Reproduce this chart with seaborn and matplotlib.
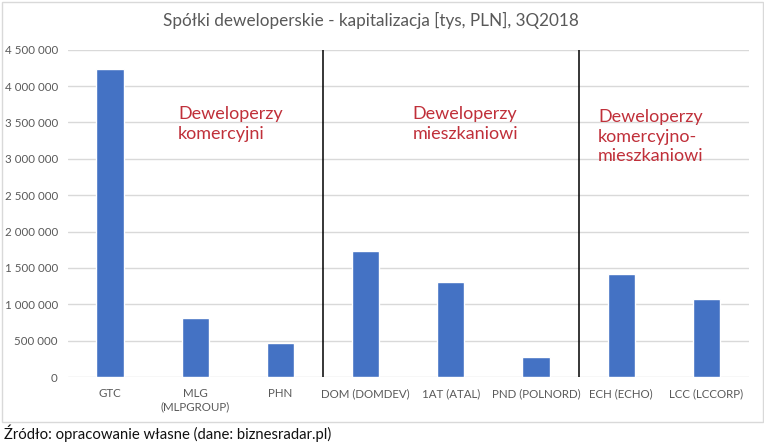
import matplotlib
matplotlib.use("Agg")
import matplotlib.pyplot as plt
import matplotlib.patches as mpatches
from matplotlib.ticker import FuncFormatter
import seaborn as sns
import pandas as pd

categories = ["GTC", "MLG\n(MLPGROUP)", "PHN", "DOM (DOMDEV)", "1AT (ATAL)",
              "PND (POLNORD)", "ECH (ECHO)", "LCC (LCCORP)"]
values = [4240000, 810000, 467000, 1730000, 1305000, 275000, 1415000, 1070000]
group_labels = ["Deweloperzy\nkomercyjni", "Deweloperzy\nmieszkaniowi",
                "Deweloperzy\nkomercyjno-\nmieszkaniowi"]
group_dividers = [2.5, 5.5]
yticks = [0, 500000, 1000000, 1500000, 2000000, 2500000, 3000000, 3500000, 4000000, 4500000]

sns.set_theme(style="white")
plt.rcParams['font.family'] = ['Lato', 'DejaVu Sans']

W, H = 764, 442
fig = plt.figure(figsize=(W / 100, H / 100), dpi=100)
ax = fig.add_axes([67.5 / W, 1 - 377 / H, (749 - 67.5) / W, (377 - 49.7) / H])

df = pd.DataFrame({"cat": categories, "val": values})
sns.barplot(data=df, x="cat", y="val", color="#4472C4", width=0.32, ax=ax,
            saturation=1, zorder=3)

ax.set_ylim(0, 4500000)
ax.set_xlim(-0.5, len(categories) - 0.5)
ax.set_yticks(yticks)
ax.yaxis.set_major_formatter(FuncFormatter(lambda v, p: f"{int(v):,}".replace(",", " ")))
ax.grid(axis="y", color="#d9d9d9", linewidth=1, zorder=0)
ax.set_axisbelow(True)
for s in ax.spines.values():
    s.set_visible(False)
ax.set_xlabel("")
ax.set_ylabel("")
ax.tick_params(axis="both", length=0, labelsize=8.3, labelcolor="#595959")
ax.tick_params(axis="y", pad=7)
ax.tick_params(axis="x", pad=8)

for d in group_dividers:
    ax.axvline(d, color="black", linewidth=1.1, zorder=4)

text_color = "#C0303A"
ax.text(0.80, 3720000, group_labels[0], color=text_color, fontsize=13, va="top",
        ha="left", linespacing=1.25)
ax.text(3.55, 3720000, group_labels[1], color=text_color, fontsize=13, va="top",
        ha="left", linespacing=1.25)
ax.text(5.73, 3680000, group_labels[2], color=text_color, fontsize=13, va="top",
        ha="left", linespacing=1.25)

fig.text(371 / W, 1 - 20 / H, "Spółki deweloperskie - kapitalizacja [tys, PLN], 3Q2018",
         ha="center", va="center", fontsize=12.3, color="#595959")

frame = mpatches.Rectangle((1.5 / W, 1 - 422 / H), 761 / W, 420 / H,
                           transform=fig.transFigure, fill=False,
                           edgecolor="#d9d9d9", linewidth=1)
fig.patches.append(frame)

fig.text(4 / W, 1 - 433 / H, "Źródło: opracowanie własne (dane: biznesradar.pl)",
         ha="left", va="center", fontsize=10.7, color="#111111")

fig.savefig("out.png", dpi=100)
